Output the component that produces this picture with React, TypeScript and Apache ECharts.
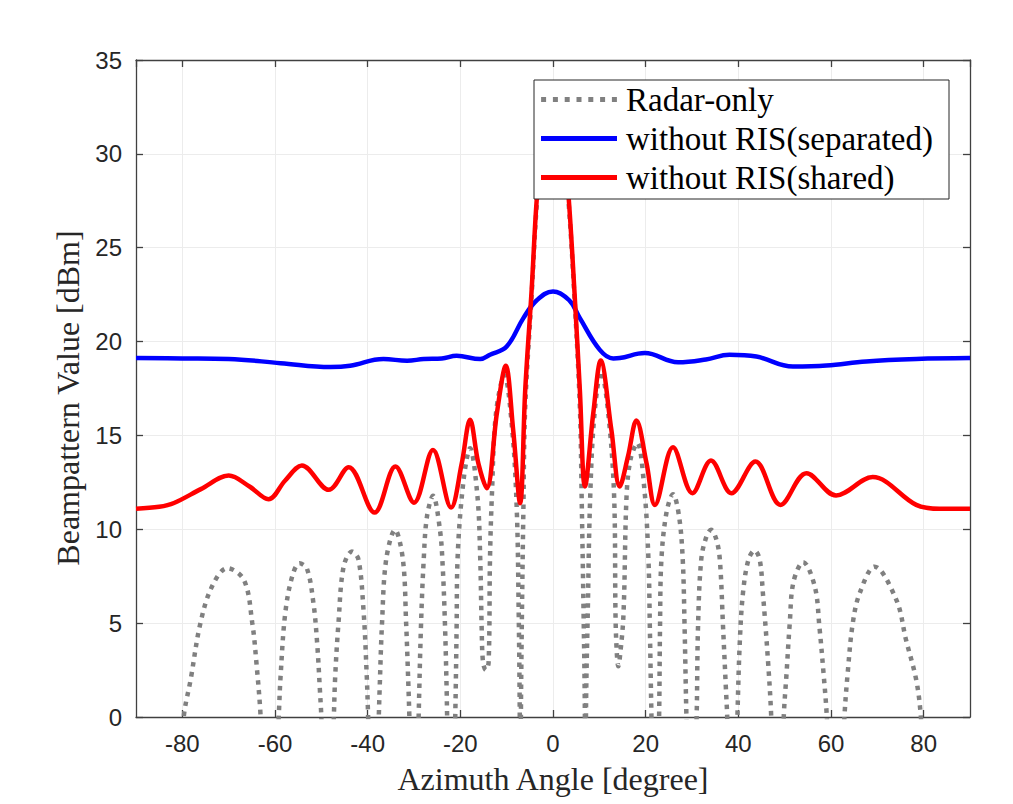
import React, { useEffect, useRef } from "react";
import * as echarts from "echarts";

// Radar-only beampattern (dotted grey)
const radarAngle = [
  -90, -84, -80.6, -79.7, -78.2, -76.1, -73.6, -70.3, -66.7, -64.9, -64.0, -63.1,
  -61.2, -59.2, -58.8, -57.8, -56.3, -54.7, -53.1, -51.7, -50.9, -50.3, -50.0,
  -48.6, -47.3, -47.0, -46.3, -45.2, -43.4, -42.0, -40.9, -40.2, -39.9,
  -38.7, -37.6, -37.4, -36.9, -36.0, -34.1, -32.4, -31.7, -31.2, -31.0,
  -30.0, -29.0, -28.5, -27.9, -27.2, -25.9, -24.4, -23.8, -23.3, -22.95, -22.85,
  -22.0, -21.1, -20.8, -20.6, -19.3, -17.9, -16.3, -15.7, -15.4, -15.1, -14.5, -13.9,
  -13.6, -13.2, -12.3, -10.5, -8.8, -7.8, -7.4, -7.2, -7.05, -6.9, -6.7, -6.4,
  -6.0, -4.6, -3.5, -2.0, 0, 2.0, 3.4, 4.6, 5.8, 6.2, 6.6, 6.85, 7.0, 7.15, 7.5,
  8.0, 8.9, 10.4, 12.0, 13.2, 13.5, 13.8, 14.1, 14.4, 15.2, 15.9, 16.8, 18.2,
  19.7, 20.6, 20.9, 21.25, 22.1, 22.9, 23.1, 23.4, 24.5, 25.9, 27.2, 28.0, 28.4,
  28.8, 29.9, 31.0, 31.3, 32.0, 33.1, 34.1, 35.2, 36.0, 36.7, 37.3, 37.6,
  38.7, 39.8, 40.3, 41.0, 42.2, 43.5, 44.6, 45.3, 46.4, 47.1, 48.45, 49.8,
  50.4, 51.1, 51.9, 54.0, 56.5, 57.5, 58.4, 59.1, 61.0, 62.9, 63.6, 64.7, 66.2,
  69.4, 74.1, 76.2, 78.4, 79.4, 80.3, 84, 90,
];
const radarValue = [
  -20, -12, -4, 0, 2.0, 5.0, 6.95, 7.93, 7.3, 5.0, 2.86, 0,
  -10, 0, 2.15, 5.5, 7.48, 8.19, 7.9, 6.06, 3.93, 1.4, 0,
  -10, 0, 2.2, 5.0, 8.0, 8.81, 8.4, 5.7, 2.2, 0,
  -10, 0, 1.6, 5.0, 8.4, 9.97, 8.4, 5.0, 1.6, 0,
  -10, 0, 4.8, 8.4, 10.68, 11.78, 9.97, 8.0, 4.8, 1.4, 0,
  -10, 0, 4.8, 8.4, 12.63, 14.32, 11.74, 8.4, 4.8, 2.9, 2.5, 2.9,
  8.4, 11.74, 16.2, 18.2, 15.3, 10.9, 5.5, 1, -5, 1, 5.5, 10.9,
  16.5, 22.5, 27.3, 31.3, 33.2, 31.3, 27.3, 22.5, 16.5, 11.5, 5.5, 1, -5, 1, 5.5,
  11.5, 16, 18.4, 16, 11.7, 5.3, 3.3, 2.7, 3.1, 5.4, 11.9, 13.8, 14.59,
  12.2, 8.4, 4.8, 0, -10, 0, 4.8, 8.4, 10.9, 11.87, 10.7, 8.4, 4.8,
  0, -10, 0, 4.8, 8.4, 9.6, 9.97, 9.5, 8.4, 4.8, 1.6, 0,
  -10, 0, 3.9, 6.6, 8.4, 8.87, 8.4, 6.6, 3.0, 0, -10, 0,
  2.3, 5.0, 7.2, 8.25, 6.95, 4.8, 2.3, 0, -10, 0, 2.33, 5.0, 6.6,
  8.01, 6.24, 4.1, 1.97, 0, -4, -12, -20,
];

// without RIS (separated) – blue
const sepAngle = [
  -90, -80, -70, -58.8, -48, -43.8, -36.6, -31.5, -27.9, -24, -20.8, -15.7, -13.6,
  -10, -6.4, -3.5, 0, 3.5, 5.8, 10.1, 13, 14.4, 19.8, 27, 33, 38.1, 43.9, 51.8,
  59, 67.6, 78.4, 90,
];
const sepValue = [
  19.12, 19.1, 19.07, 18.85, 18.64, 18.71, 19.07, 18.98, 19.07, 19.1, 19.24, 19.07, 19.3,
  19.74, 21.25, 22.2, 22.67, 22.2, 21.25, 19.56, 19.1, 19.12, 19.39, 18.9, 19.05, 19.3, 19.2, 18.67,
  18.72, 18.94, 19.07, 19.12,
];

// without RIS (shared) – red
const shAngle = [
  -90, -85, -81.8, -76, -70, -65.5, -61.4, -57.8, -54.2, -48.4, -44.1, -38.5, -34,
  -30, -25.9, -22, -19.7, -17.9, -16.1, -14.3, -12.1, -10.2, -8.6, -7.1, -6, -4.6,
  -3.5, -2, 0, 2, 3.4, 4.6, 5.8, 6.9, 8.7, 10.3, 12.6, 14.4, 16.2, 18.0, 20.2, 22,
  25.9, 30.1, 34.1, 38.5, 43.7, 49.1, 54.7, 61.1, 69, 78.4, 83.4, 90,
];
const shValue = [
  11.1, 11.2, 11.4, 12.14, 12.86, 12.28, 11.6, 12.6, 13.4, 12.1, 13.31, 10.89, 13.34,
  11.42, 14.23, 11.16, 13.5, 15.83, 13.5, 12.19, 16.2, 18.71, 15.3, 11.39, 17.4, 22.8,
  27.6, 31.5, 33.3, 31.5, 27.6, 22.8, 17.4, 12.28, 16.2, 18.99, 15.3, 12.28, 13.9, 15.8, 13.5, 11.3,
  14.37, 11.92, 13.66, 11.92, 13.61, 11.3, 12.99, 11.8, 12.78, 11.3, 11.09, 11.09,
];

const seriesNames = ["Radar-only", "without RIS(separated)", "without RIS(shared)"];
const xAxisTitle = "Azimuth Angle [degree]";
const yAxisTitle = "Beampattern Value [dBm]";

const zip = (a: number[], b: number[]) => a.map((v, i) => [v, b[i]]);

// legend glyphs (shapes only)
const dottedIcon =
  "path://M0 0h5v5h-5z M11.8 0h5v5h-5z M23.6 0h5v5h-5z M35.4 0h5v5h-5z M47.2 0h5v5h-5z M59 0h5v5h-5z M70.8 0h5v5h-5z";
const solidIcon = "path://M0 0h76v5h-76z";

export default function App() {
  const ref = useRef<HTMLDivElement>(null);
  useEffect(() => {
    if (!ref.current) return;
    const chart = echarts.init(ref.current, undefined, { renderer: "svg" });
    const axisColor = "#404040";
    const tickFont = { fontFamily: "Liberation Sans", fontSize: 24, color: "#262626" };
    const serif = "Liberation Serif";
    const baseX = {
      type: "value" as const,
      min: -90,
      max: 90,
      splitNumber: 9,
    };
    chart.setOption({
      animation: false,
      backgroundColor: "#ffffff",
      grid: { left: 136, right: 43, top: 60, bottom: 87, containLabel: false },
      xAxis: [
        {
          ...baseX,
          position: "bottom",
          name: xAxisTitle,
          nameLocation: "middle",
          nameGap: 46,
          nameTextStyle: { fontFamily: serif, fontSize: 32, color: "#262626" },
          axisLine: { show: true, onZero: false, lineStyle: { color: axisColor, width: 1.3 } },
          axisTick: { show: true, inside: true, length: 7, lineStyle: { color: axisColor, width: 1.3 } },
          axisLabel: { ...tickFont, margin: 14, showMinLabel: false, showMaxLabel: false },
          splitLine: { show: true, lineStyle: { color: "#ececec", width: 1 } },
        },
        {
          ...baseX,
          position: "top",
          axisLine: { show: true, onZero: false, lineStyle: { color: axisColor, width: 1.3 } },
          axisTick: { show: true, inside: true, length: 7, lineStyle: { color: axisColor, width: 1.3 } },
          axisLabel: { show: false },
          splitLine: { show: false },
        },
      ],
      yAxis: [
        {
          type: "value",
          min: 0,
          max: 35,
          interval: 5,
          position: "left",
          axisLine: { show: true, onZero: false, lineStyle: { color: axisColor, width: 1.3 } },
          axisTick: { show: true, inside: true, length: 7, lineStyle: { color: axisColor, width: 1.3 } },
          axisLabel: { ...tickFont, margin: 14 },
          splitLine: { show: true, lineStyle: { color: "#ececec", width: 1 } },
        },
        {
          type: "value",
          min: 0,
          max: 35,
          interval: 5,
          position: "right",
          axisLine: { show: true, onZero: false, lineStyle: { color: axisColor, width: 1.3 } },
          axisTick: { show: true, inside: true, length: 7, lineStyle: { color: axisColor, width: 1.3 } },
          axisLabel: { show: false },
          splitLine: { show: false },
        },
      ],
      legend: {
        left: 534,
        top: 80,
        z: 20,
        orient: "vertical",
        backgroundColor: "#ffffff",
        borderColor: "#262626",
        borderWidth: 1,
        borderRadius: 0,
        padding: [3, 16, 5, 7],
        itemWidth: 76,
        itemHeight: 5,
        itemGap: 6,
        textStyle: {
          fontFamily: serif,
          fontSize: 33,
          lineHeight: 32,
          color: "#000000",
          padding: [0, 0, 0, 4],
        },
        data: [
          { name: seriesNames[0], icon: dottedIcon, itemStyle: { color: "#808080" } },
          { name: seriesNames[1], icon: solidIcon, itemStyle: { color: "#0000ff" } },
          { name: seriesNames[2], icon: solidIcon, itemStyle: { color: "#ff0000" } },
        ],
      },
      graphic: [
        {
          type: "text",
          x: 68,
          y: 398,
          rotation: Math.PI / 2,
          style: {
            text: yAxisTitle,
            fontFamily: serif,
            fontSize: 32,
            fill: "#262626",
            textAlign: "center",
            textVerticalAlign: "middle",
          },
        },
      ],
      series: [
        {
          name: seriesNames[0],
          type: "line",
          data: zip(radarAngle, radarValue),
          showSymbol: false,
          symbol: "none",
          smooth: 0.35,
          clip: true,
          lineStyle: { color: "#808080", width: 4.5, type: [4.5, 5.5], cap: "butt" },
          itemStyle: { color: "#808080" },
          z: 1,
        },
        {
          name: seriesNames[1],
          type: "line",
          data: zip(sepAngle, sepValue),
          showSymbol: false,
          symbol: "none",
          smooth: 0.4,
          clip: true,
          lineStyle: { color: "#0000ff", width: 4.5 },
          itemStyle: { color: "#0000ff" },
          z: 2,
        },
        {
          name: seriesNames[2],
          type: "line",
          data: zip(shAngle, shValue),
          showSymbol: false,
          symbol: "none",
          smooth: 0.35,
          clip: true,
          lineStyle: { color: "#ff0000", width: 4.5 },
          itemStyle: { color: "#ff0000" },
          z: 3,
        },
      ],
    });
    return () => chart.dispose();
  }, []);
  return (
    <div
      ref={ref}
      style={{ position: "fixed", left: 0, top: 0, width: 1013, height: 804, background: "#ffffff" }}
    />
  );
}
